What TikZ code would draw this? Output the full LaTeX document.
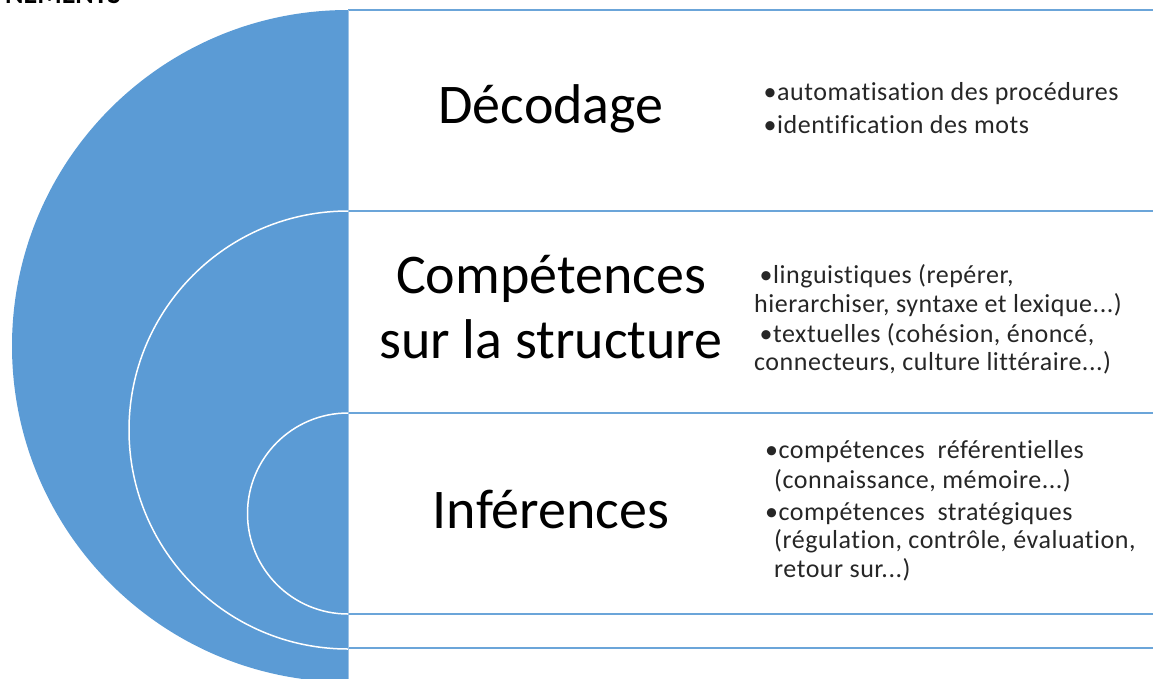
\documentclass[tikz,border=0pt]{standalone}
\usepackage{fontspec}
\setmainfont{Carlito}
\newfontfamily\itemfont{Carlito}[LetterSpace=2,Ligatures=NoCommon]
\definecolor{sablue}{HTML}{5B9BD5}
\begin{document}
\begin{tikzpicture}[x=1pt,y=-1pt,
  title/.style={anchor=base,inner sep=0pt,font=\fontsize{56}{65}\selectfont,text=black},
  item/.style={anchor=base west,inner sep=0pt,font=\itemfont\fontsize{26}{29}\selectfont,text=black!85},
  frame/.style={draw=sablue!90!white,line width=1.8pt},
  ring/.style={draw=white,line width=1.5pt}]
\useasboundingbox (0,0) rectangle (1153,678);
% partly hidden heading at the top edge
\node[anchor=base west,inner sep=0pt,font=\fontsize{28}{30}\selectfont\bfseries] (head) at (5,3) {NEMENTS};
% blue half disc with white rings
\begin{scope}
  \clip (0,0) rectangle (348,678);
  \fill[sablue] (348,346) circle[radius=336];
  \draw[ring] (348,430) circle[radius=219];
  \draw[ring] (348,513.5) circle[radius=100.5];
\end{scope}
% frame lines
\draw[frame] (348,10) -- (1160,10);
\draw[frame] (348,211) -- (1160,211);
\draw[frame] (348,413) -- (1160,413);
\draw[frame] (348,614) -- (1160,614);
\draw[frame] (348,648) -- (1160,648);
\draw[sablue!60!white,line width=0.8pt] (348,10) -- (348,680);
% titles
\node[title] (t1) at (551,123) {Décodage};
\node[title] (t2a) at (551,293) {Compétences};
\node[title] (t2b) at (551,358) {sur la structure};
\node[title] (t3) at (551,528) {Inférences};
% bullets section 1
\node[item] (a1) at (763.5,100) {•automatisation des procédures};
\node[item] (a2) at (763.5,133) {•identification des mots};
% bullets section 2
\node[item] (b1) at (759.5,283) {•linguistiques (repérer,};
\node[item] (b2) at (754,312) {hierarchiser, syntaxe et lexique...)};
\node[item] (b3) at (759.5,342) {•textuelles (cohésion, énoncé,};
\node[item] (b4) at (754,370) {connecteurs, culture littéraire...)};
% bullets section 3
\node[item] (c1) at (765,458) {•compétences\ \ référentielles};
\node[item] (c2) at (774,488) {(connaissance, mémoire...)};
\node[item] (c3) at (765,520) {•compétences\ \ stratégiques};
\node[item] (c4) at (774,548) {(régulation, contrôle, évaluation,};
\node[item] (c5) at (774,577) {retour sur...)};
\end{tikzpicture}
\end{document}
